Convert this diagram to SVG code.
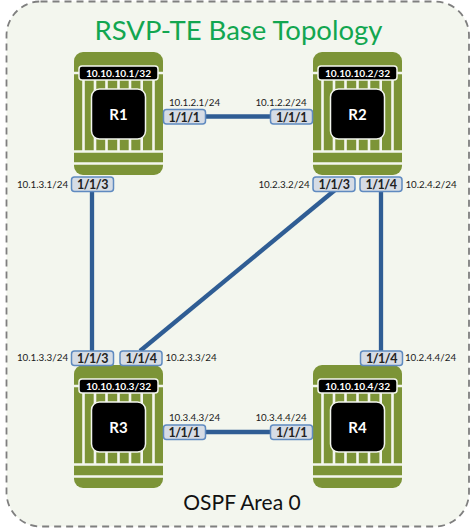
<svg xmlns="http://www.w3.org/2000/svg" width="474" height="531" viewBox="0 0 474 531">
<style>
text{font-family:Lato,"Open Sans",sans-serif;text-anchor:middle}
.ip{font-size:9.800px;fill:#1a1a1a}
.pt{font-size:12.500px;font-weight:700;fill:#222;letter-spacing:-.5px}
.pr{fill:#d6dce5;stroke:#5f8ac0;stroke-width:1.500}
.lk{stroke:#2f5d94;stroke-width:4.300;fill:none}
.lo{font-size:10.200px;font-weight:700;fill:#fff}
.nm{font-size:15px;font-weight:700;fill:#fff}
</style>
<defs>
<g id="chassis">
<rect x="0" y="0" width="89" height="123" rx="9" fill="#7c9437"/>
<path d="M9.500 17V99M21 17V99M32.500 17V99M44.500 17V99M56 17V99M67.700 17V99M79.500 17V99" stroke="#f3f6ee" stroke-width="2.600"/>
<path d="M0 99.500H89M0 111.500H89M0 21H89" stroke="#f3f6ee" stroke-width="2.600"/>
<rect x="5" y="14" width="79" height="14" rx="3" fill="#000" stroke="#f3f6ee" stroke-width="1.500"/>
<rect x="17.500" y="37" width="54" height="50" rx="8" fill="#000" stroke="#f3f6ee" stroke-width="1.500"/>
</g>
</defs>
<rect x="6.500" y="1.500" width="462.500" height="525" rx="34" fill="#f3f6ee" stroke="#7f7f7f" stroke-width="1.800" stroke-dasharray="7 5"/>
<text x="238.500" y="39.500" fill="#12a650" style="font-size:27.500px">RSVP-TE Base Topology</text>
<text x="242" y="510" style="font-size:21px" fill="#111">OSPF Area 0</text>
<g id="connectors">
<path class="lk" d="M205 116.500H271"/>
<path class="lk" d="M92 190V351"/>
<path class="lk" d="M381 190V351"/>
<path class="lk" d="M335 190L140 351"/>
<path class="lk" d="M205 432H271"/>
</g>
<g id="R1">
<use href="#chassis" x="74" y="52"/>
<text class="lo" x="118.500" y="76.500">10.10.10.1/32</text>
<text class="nm" x="118.500" y="120">R1</text>
</g>
<g id="R2">
<use href="#chassis" x="313" y="52"/>
<text class="lo" x="357.500" y="76.500">10.10.10.2/32</text>
<text class="nm" x="357.500" y="120">R2</text>
</g>
<g id="R3">
<use href="#chassis" x="74" y="365"/>
<text class="lo" x="118.500" y="389.500">10.10.10.3/32</text>
<text class="nm" x="118.500" y="433">R3</text>
</g>
<g id="R4">
<use href="#chassis" x="313" y="365"/>
<text class="lo" x="357.500" y="389.500">10.10.10.4/32</text>
<text class="nm" x="357.500" y="433">R4</text>
</g>
<g id="ports">
<g id="p-r1-1"><rect class="pr" x="163.500" y="109.500" width="42" height="14.500" rx="3"/><text class="pt" x="184" y="121.500">1/1/1</text><text class="ip" x="194.500" y="105.700">10.1.2.1/24</text></g>
<g id="p-r2-1"><rect class="pr" x="270.500" y="109.500" width="42" height="14.500" rx="3"/><text class="pt" x="291.500" y="121.500">1/1/1</text><text class="ip" x="281" y="105.700">10.1.2.2/24</text></g>
<g id="p-r1-3"><rect class="pr" x="71.500" y="177" width="42" height="14.500" rx="3"/><text class="pt" x="92.500" y="189">1/1/3</text><text class="ip" x="42.500" y="187.700">10.1.3.1/24</text></g>
<g id="p-r2-3"><rect class="pr" x="313" y="177" width="42" height="14.500" rx="3"/><text class="pt" x="334" y="189">1/1/3</text><text class="ip" x="284" y="187.700">10.2.3.2/24</text></g>
<g id="p-r2-4"><rect class="pr" x="360" y="177" width="42" height="14.500" rx="3"/><text class="pt" x="381" y="189">1/1/4</text><text class="ip" x="431" y="187.700">10.2.4.2/24</text></g>
<g id="p-r3-3"><rect class="pr" x="71.500" y="351" width="42" height="14.500" rx="3"/><text class="pt" x="92.500" y="363">1/1/3</text><text class="ip" x="42.500" y="361">10.1.3.3/24</text></g>
<g id="p-r3-4"><rect class="pr" x="120" y="351" width="42" height="14.500" rx="3"/><text class="pt" x="141" y="363">1/1/4</text><text class="ip" x="191" y="361">10.2.3.3/24</text></g>
<g id="p-r4-4"><rect class="pr" x="360.500" y="351" width="42" height="14.500" rx="3"/><text class="pt" x="381.500" y="363">1/1/4</text><text class="ip" x="430.500" y="361">10.2.4.4/24</text></g>
<g id="p-r3-1"><rect class="pr" x="163.500" y="425" width="42" height="14.500" rx="3"/><text class="pt" x="184" y="437">1/1/1</text><text class="ip" x="194.500" y="421">10.3.4.3/24</text></g>
<g id="p-r4-1"><rect class="pr" x="270.500" y="425" width="42" height="14.500" rx="3"/><text class="pt" x="291.500" y="437">1/1/1</text><text class="ip" x="281" y="421">10.3.4.4/24</text></g>
</g>
</svg>
